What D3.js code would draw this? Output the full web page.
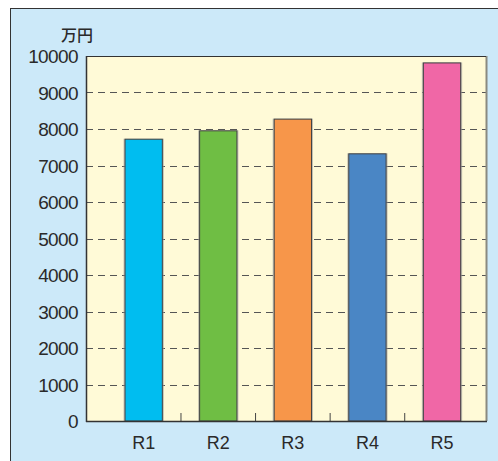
<!DOCTYPE html>
<html><head><meta charset="utf-8">
<script src="https://cdn.jsdelivr.net/npm/d3@7"></script>
<style>body{margin:0;background:#fff}svg{display:block}</style>
</head><body>
<script>
const categories = ["R1","R2","R3","R4","R5"];
const values = [7720, 7950, 8270, 7320, 9810];
const barColors = ["#00bdf0","#6fbe44","#f7964a","#4a86c5","#f067a6"];
const yTicks = [0,1000,2000,3000,4000,5000,6000,7000,8000,9000,10000];
const unitLabel = "万円";

const W = 498, H = 461;
const svg = d3.select("body").append("svg").attr("width", W).attr("height", H);

// outer frame
svg.append("rect").attr("x",10.5).attr("y",8.5).attr("width",W).attr("height",H)
  .attr("fill","#cce9f9").attr("stroke","#333").attr("stroke-width",1);

const pL = 86, pT = 56, pR = 486, pB = 421;
const y = d3.scaleLinear().domain([0,10000]).range([pB,pT]);
const x = d3.scaleBand().domain(categories).range([106.4, 479.3]).paddingInner(0.5).paddingOuter(0.25);

// plot background
svg.append("rect").attr("x",pL).attr("y",pT).attr("width",pR-pL).attr("height",pB-pT).attr("fill","#fffad7");

// grid lines
svg.append("g").selectAll("line").data(yTicks.filter(d=>d>0 && d<10000)).join("line")
  .attr("x1",pL).attr("x2",pR).attr("y1",d=>Math.round(y(d))+0.5).attr("y2",d=>Math.round(y(d))+0.5)
  .attr("stroke","#555").attr("stroke-width",1).attr("stroke-dasharray","7,5");

// right border (shadowed)
svg.append("line").attr("x1",pR+0.5).attr("x2",pR+0.5).attr("y1",pT).attr("y2",pB).attr("stroke","#8a8a80").attr("stroke-width",2);
// top border
svg.append("line").attr("x1",pL).attr("x2",pR).attr("y1",pT+0.5).attr("y2",pT+0.5).attr("stroke","#333").attr("stroke-width",1.2);

// bars
const step = x.step();
const bw = x.bandwidth();
svg.append("g").selectAll("rect.sh").data(values).join("rect")
  .attr("x",(d,i)=>x(categories[i])-1.5).attr("y",d=>y(d)-0.5)
  .attr("width",bw+3).attr("height",d=>pB-y(d)+0.5)
  .attr("fill","#999").attr("opacity",0.6);
svg.append("g").selectAll("rect.bar").data(values).join("rect")
  .attr("x",(d,i)=>x(categories[i])).attr("y",d=>y(d))
  .attr("width",bw).attr("height",d=>pB-y(d))
  .attr("fill",(d,i)=>barColors[i]).attr("stroke","#444").attr("stroke-width",1);

// x category separator ticks
svg.append("g").selectAll("line").data(categories.slice(1)).join("line")
  .attr("x1",d=>x(d)-(step-bw)/2).attr("x2",d=>x(d)-(step-bw)/2)
  .attr("y1",pB).attr("y2",pB-8).attr("stroke","#444").attr("stroke-width",1);

// axes lines
svg.append("line").attr("x1",pL+0.5).attr("x2",pL+0.5).attr("y1",pT).attr("y2",pB+1).attr("stroke","#333").attr("stroke-width",1.5);
svg.append("line").attr("x1",pL).attr("x2",pR+1).attr("y1",pB+0.5).attr("y2",pB+0.5).attr("stroke","#333").attr("stroke-width",1.5);

// y labels
svg.append("g").selectAll("text").data(yTicks).join("text")
  .attr("x",78).attr("y",d=>y(d)+7)
  .attr("text-anchor","end").attr("font-family","Liberation Sans, Arial, sans-serif")
  .attr("font-size",19).attr("letter-spacing","-0.6").attr("fill","#2a2a2a").text(d=>d);

// x labels
svg.append("g").selectAll("text").data(categories).join("text")
  .attr("x",d=>x(d)+bw/2).attr("y",449)
  .attr("text-anchor","middle").attr("font-family","Liberation Sans, Arial, sans-serif")
  .attr("font-size",18).attr("fill","#2a2a2a").text(d=>d);

// unit
svg.append("text").attr("x",77).attr("y",41).attr("text-anchor","middle")
  .attr("font-family","Noto Sans CJK JP, sans-serif").attr("font-size",16).attr("font-weight",500)
  .attr("fill","#2a2a2a").text(unitLabel);
</script>
</body></html>
